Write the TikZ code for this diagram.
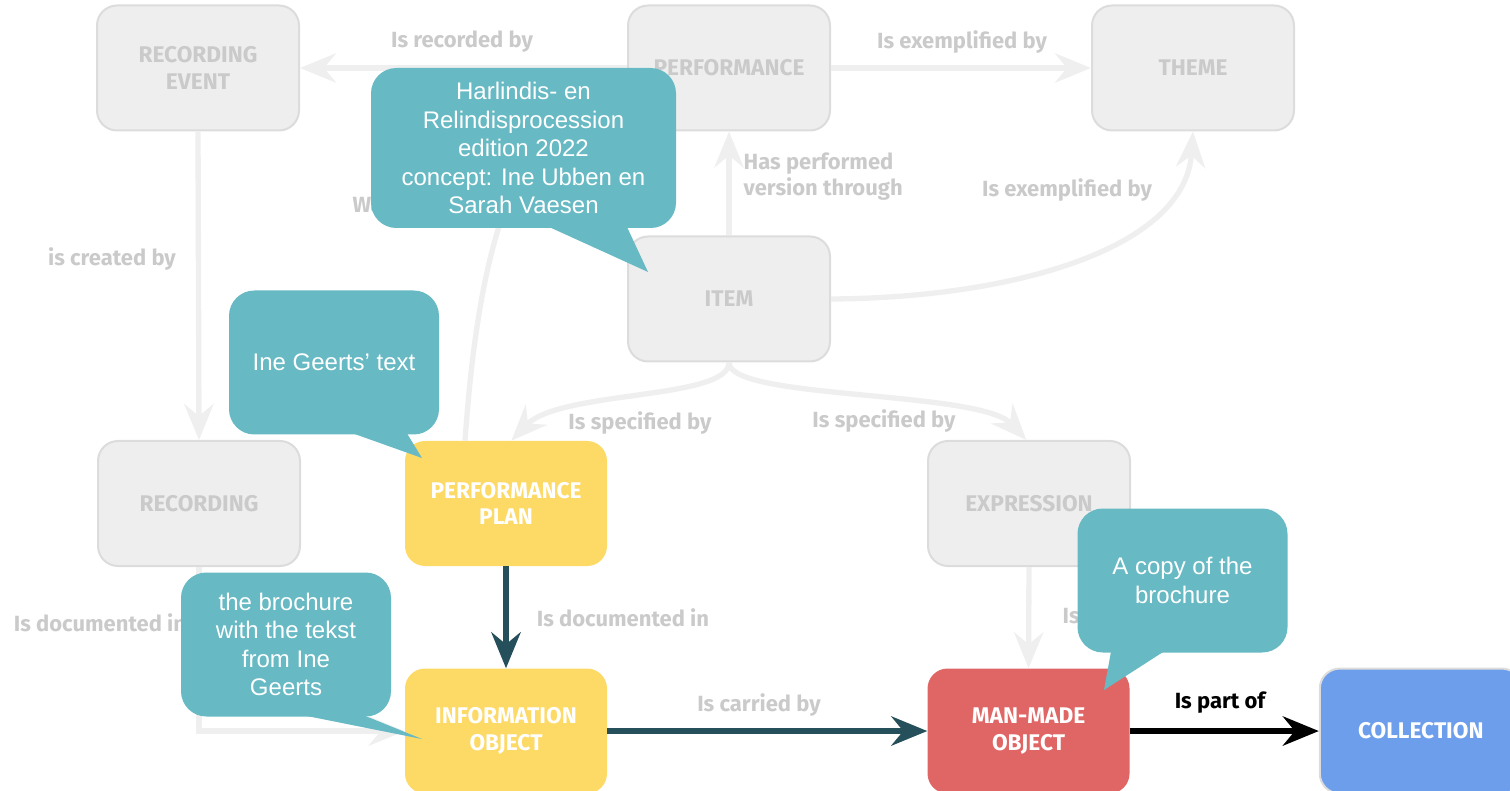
\documentclass[tikz,border=0pt]{standalone}
\usepackage{fontspec}
\setmainfont{Fira Sans}
\newfontfamily\notefont{Liberation Sans}
\usetikzlibrary{positioning}
\usetikzlibrary {arrows.meta}

\definecolor{fadefill}{HTML}{EEEEEE}
\definecolor{fadeline}{HTML}{DCDCDC}
\definecolor{fadetext}{HTML}{CACACA}
\definecolor{edgegray}{HTML}{EFEFEF}
\definecolor{planyellow}{HTML}{FDD966}
\definecolor{objred}{HTML}{E06666}
\definecolor{collblue}{HTML}{6D9EEB}
\definecolor{noteteal}{HTML}{67B9C3}
\definecolor{darkteal}{HTML}{244F5B}

\tikzset{
    entity/.style={rounded corners=15pt, minimum width=151.5pt, minimum height=93.75pt,
        align=center, inner sep=2pt, font=\bfseries\fontsize{17}{20}\selectfont},
    faded/.style={entity, fill=fadefill, draw=fadeline, line width=1.5pt, text=fadetext},
    plan/.style={entity, fill=planyellow, text=white},
    redobj/.style={entity, fill=objred, text=white},
    bluecoll/.style={entity, fill=collblue, draw=fadeline, line width=1.5pt, text=white},
    tip/.style={-{Stealth[length=27pt,width=22pt,inset=9pt]}},
    rel/.style={tip, line width=4pt, draw=edgegray},
    strong/.style={tip, line width=4pt, draw=darkteal},
    partof/.style={tip, line width=4pt, draw=black},
    rellabel/.style={text=fadetext, font=\bfseries\fontsize{16.5}{19.5}\selectfont},
    note/.style={fill=noteteal, rounded corners=19pt, text=white, align=center,
        inner sep=0pt, minimum width=157.5pt, minimum height=108pt,
        font=\notefont\fontsize{18}{21.4}\selectfont},
}

\begin{document}
\begin{tikzpicture}[x=0.75pt,y=-0.75pt]
    \useasboundingbox (0,0) rectangle (1510,791);
    %% entities
    \node[faded] (recev) at (198,68) {RECORDING\\EVENT};
    \node[faded] (perf) at (729,68) {PERFORMANCE};
    \node[faded] (theme) at (1193,68) {THEME};
    \node[faded, below = 78pt of perf] (item) {ITEM};
    \node[faded] (rec) at (199,503.5) {RECORDING};
    \node[plan] (plan) at (506,503.5) {PERFORMANCE\\PLAN};
    \node[faded] (expr) at (1029,503.5) {EXPRESSION};
    \node[plan, below = 76.5pt of plan] (info) {INFORMATION\\OBJECT};
    \node[redobj, right = 240pt of info] (mmo) {MAN-MADE\\OBJECT};
    \node[bluecoll, right = 141.75pt of mmo] (coll) {COLLECTION};

    %% faded relations
    \draw[rel] (perf.west) -- (recev.east);
    \draw[rel] (perf.east) -- (theme.west);
    \draw[rel] (item.north) -- (perf.south);
    \draw[rel] (item.east) .. controls (1010,298) and (1185,250) .. (theme.south);
    \draw[rel] (recev.south) -- (rec.north);
    \draw[rel] (item.south) .. controls (729,400) and (560,390) .. ([xshift=4pt]plan.north);
    \draw[rel] (item.south) .. controls (729,400) and (980,390) .. ([xshift=-2pt]expr.north);
    \draw[rel] ([xshift=-30.75pt]plan.north) .. controls (473,330) and (495,110) .. ([yshift=-31.5pt]perf.west);
    \draw[rel] (rec.south) |- (info.west);
    \draw[rel] (expr.south) -- (mmo.north);
    % labels
    \node[rellabel] (l1) at (462,42) {Is recorded by};
    \node[rellabel] (l2) at (962,42) {Is exemplified by};
    \node[rellabel, anchor=west, align=left] (l3) at (739,177) {Has performed\\version through};
    \node[rellabel] (l4) at (1067,190) {Is exemplified by};
    \node[rellabel] (l5) at (112,259) {is created by};
    \node[rellabel, anchor=west] (l6) at (348,205) {Was};
    \node[rellabel] (l7) at (640,423) {Is specified by};
    \node[rellabel] (l8) at (884,421) {Is specified by};
    \node[rellabel] (l9) at (100,623) {Is documented in};
    \node[rellabel, anchor=west] (l10) at (1058,615) {Is embodied in};

    %% highlighted relations
    \draw[strong] (plan.south) -- (info.north);
    \draw[strong] (info.east) -- (mmo.west);
    \draw[partof] (mmo.east) -- (coll.west);
    \node[rellabel] (l11) at (623,618) {Is documented in};
    \node[rellabel] (l12) at (759,705) {Is carried by};
    \node[rellabel, text=black] (l13) at (1220,703) {Is part of};

    %% notes
    \node[note, minimum width=228.75pt, minimum height=120pt] (c1) at (523.5,148)
        {Harlindis- en\\Relindisprocession\\edition 2022\\concept: Ine Ubben en\\Sarah Vaesen};
    \coordinate (t1) at (648,272);
    \fill[noteteal] ([xshift=19.1pt,yshift=1pt]c1.south) -- (t1) -- ([xshift=77.6pt,yshift=1pt]c1.south) -- cycle;

    \node[note] (c2) at (334,362.5) {Ine Geerts’ text};
    \coordinate (t2) at (422,458);
    \fill[noteteal] ([xshift=14.25pt,yshift=1pt]c2.south) -- (t2) -- ([xshift=54.75pt,yshift=1pt]c2.south) -- cycle;

    \node[note] (c3) at (286,644.5) {the brochure\\with the tekst\\from Ine\\Geerts};
    \coordinate (t3) at (422,739);
    \fill[noteteal] ([xshift=13.5pt,yshift=1pt]c3.south) -- (t3) -- ([xshift=58.5pt,yshift=1pt]c3.south) -- cycle;

    \node[note] (c4) at (1182.5,580.5) {A copy of the\\brochure};
    \coordinate (t4) at (1104,690);
    \fill[noteteal] ([xshift=-53.6pt,yshift=1pt]c4.south) -- (t4) -- ([xshift=-13.9pt,yshift=1pt]c4.south) -- cycle;
\end{tikzpicture}
\end{document}
